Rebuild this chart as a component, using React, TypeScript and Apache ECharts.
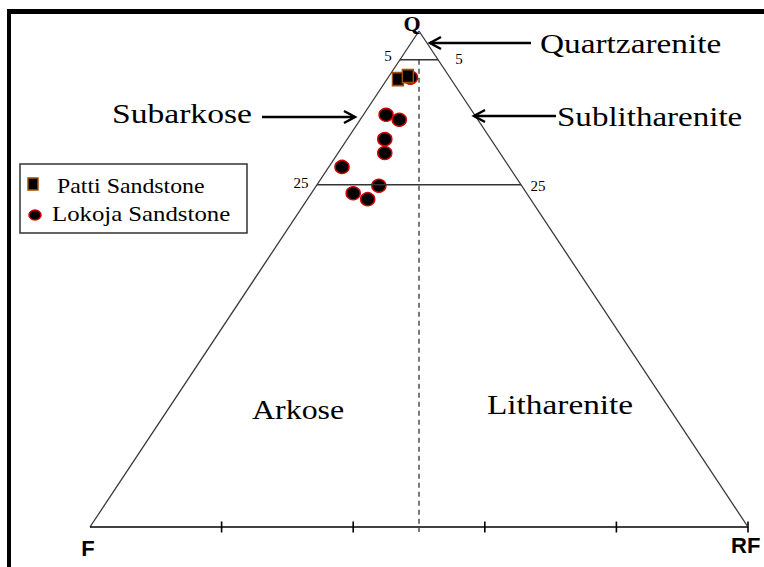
import React, { useEffect, useRef } from "react";
import * as echarts from "echarts";

// Plot coordinates: x = position along the F–RF base (0–100), y = height towards Q (0–100)
const triangleVertices: number[][] = [[0, 0], [50, 100], [100, 0]];
const baseLine: number[][] = [[0, 0], [100, 0]];
const baseTicks: number[] = [20, 40, 60, 80, 100];
const guideLevels: number[] = [94.2, 69.0];
const divideLine: number[][] = [[50, 94.2], [50, -1]];

const pattiSandstone: number[][] = [
  [46.8, 90.3],
  [48.3, 90.9],
];
const lokojaSandstone: number[][] = [
  [48.7, 90.6],
  [45.0, 83.1],
  [47.0, 82.1],
  [44.8, 78.2],
  [44.8, 75.4],
  [38.3, 72.6],
  [43.9, 68.8],
  [40.0, 67.3],
  [42.2, 66.1],
];

const SERIF = "'Liberation Serif', 'Times New Roman', serif";
const SANS = "'Liberation Sans', Arial, sans-serif";

function label(
  text: string,
  x: number,
  y: number,
  fontSize: number,
  scaleX = 1,
  family = SERIF,
  weight: string = "normal",
  align: string = "left"
) {
  return {
    type: "text",
    x,
    y,
    scaleX,
    z: 10,
    style: {
      text,
      font: `normal ${weight} ${fontSize}px ${family}`,
      fill: "#000",
      align,
      verticalAlign: "middle",
    },
  };
}

function arrow(x1: number, x2: number, y: number) {
  const dir = x2 > x1 ? -1 : 1;
  return [
    {
      type: "line",
      z: 10,
      shape: { x1, y1: y, x2, y2: y },
      style: { stroke: "#000", lineWidth: 2.5 },
    },
    {
      type: "polyline",
      z: 10,
      shape: {
        points: [
          [x2 + dir * 11, y - 6],
          [x2, y],
          [x2 + dir * 11, y + 6],
        ],
      },
      style: { stroke: "#000", lineWidth: 2.5, fill: "none" },
    },
  ];
}

export default function App() {
  const ref = useRef<HTMLDivElement>(null);

  useEffect(() => {
    if (!ref.current) return;
    const chart = echarts.init(ref.current, undefined, { renderer: "svg" });

    const guideSeries = guideLevels.map((lv) => ({
      type: "line",
      data: [
        [lv / 2, lv],
        [100 - lv / 2, lv],
      ],
      symbol: "none",
      clip: false,
      silent: true,
      lineStyle: { color: "#333", width: 1.3 },
    }));

    chart.setOption({
      animation: false,
      backgroundColor: "#fff",
      grid: { left: 90, right: 16, top: 31, bottom: 40 },
      xAxis: { type: "value", min: 0, max: 100, show: false },
      yAxis: { type: "value", min: 0, max: 100, show: false },
      series: [
        {
          type: "line",
          data: triangleVertices,
          symbol: "none",
          clip: false,
          silent: true,
          lineStyle: { color: "#3a3a3a", width: 1.3 },
        },
        {
          type: "line",
          data: baseLine,
          symbol: "none",
          clip: false,
          silent: true,
          lineStyle: { color: "#000", width: 1.6 },
        },
        {
          type: "scatter",
          data: baseTicks.map((t) => [t, 0]),
          symbol: "rect",
          symbolSize: [1.6, 11],
          clip: false,
          silent: true,
          itemStyle: { color: "#000", opacity: 1 },
        },
        ...guideSeries,
        {
          type: "line",
          data: divideLine,
          symbol: "none",
          clip: false,
          silent: true,
          lineStyle: { color: "#333", width: 1.3, type: [5, 4] },
        },
        {
          name: "Lokoja Sandstone",
          type: "scatter",
          data: lokojaSandstone,
          symbol: "circle",
          symbolSize: [14, 13],
          clip: false,
          itemStyle: { color: "#000", borderColor: "#d40000", borderWidth: 1.5, opacity: 1 },
        },
        {
          name: "Patti Sandstone",
          type: "scatter",
          data: pattiSandstone,
          symbol: "rect",
          symbolSize: [11, 13],
          clip: false,
          itemStyle: { color: "#000", borderColor: "#a0500f", borderWidth: 1.5, opacity: 1 },
        },
      ],
      graphic: [
        { type: "rect", shape: { x: 7, y: 9, width: 4, height: 560 }, style: { fill: "#000" } },
        { type: "rect", shape: { x: 7, y: 9, width: 760, height: 5 }, style: { fill: "#000" } },
        label("Q", 412, 23, 22, 1, SERIF, "bold", "center"),
        label("F", 88, 548, 22, 1, SANS, "bold", "center"),
        label("RF", 731, 545, 22, 1, SANS, "bold", "left"),
        label("5", 388, 56, 15, 1, SERIF, "normal", "center"),
        label("5", 459, 59, 15, 1, SERIF, "normal", "center"),
        label("25", 301, 183, 15, 1, SERIF, "normal", "center"),
        label("25", 538, 186, 15, 1, SERIF, "normal", "center"),
        label("Quartzarenite", 540, 44, 28, 1.19),
        ...arrow(531, 430, 43),
        label("Subarkose", 112, 113, 28, 1.2),
        ...arrow(262, 355, 117),
        label("Sublitharenite", 557, 117, 28, 1.18),
        ...arrow(556, 474, 116),
        label("Arkose", 252, 409, 28, 1.14),
        label("Litharenite", 487, 405, 28, 1.19),
        {
          type: "rect",
          shape: { x: 20, y: 164, width: 227, height: 69 },
          style: { fill: "#fff", stroke: "#333", lineWidth: 1.5 },
        },
        {
          type: "rect",
          shape: { x: 28, y: 178, width: 10, height: 12 },
          style: { fill: "#000", stroke: "#a0500f", lineWidth: 1.5 },
        },
        label("Patti Sandstone", 57, 186, 21, 1.135),
        {
          type: "ellipse",
          shape: { cx: 35, cy: 215, rx: 6, ry: 5 },
          style: { fill: "#000", stroke: "#d40000", lineWidth: 1.5 },
        },
        label("Lokoja Sandstone", 52, 214, 21, 1.18),
      ],
    });

    return () => chart.dispose();
  }, []);

  return (
    <div
      ref={ref}
      style={{ position: "fixed", left: 0, top: 0, width: 764, height: 567, background: "#fff" }}
    />
  );
}
